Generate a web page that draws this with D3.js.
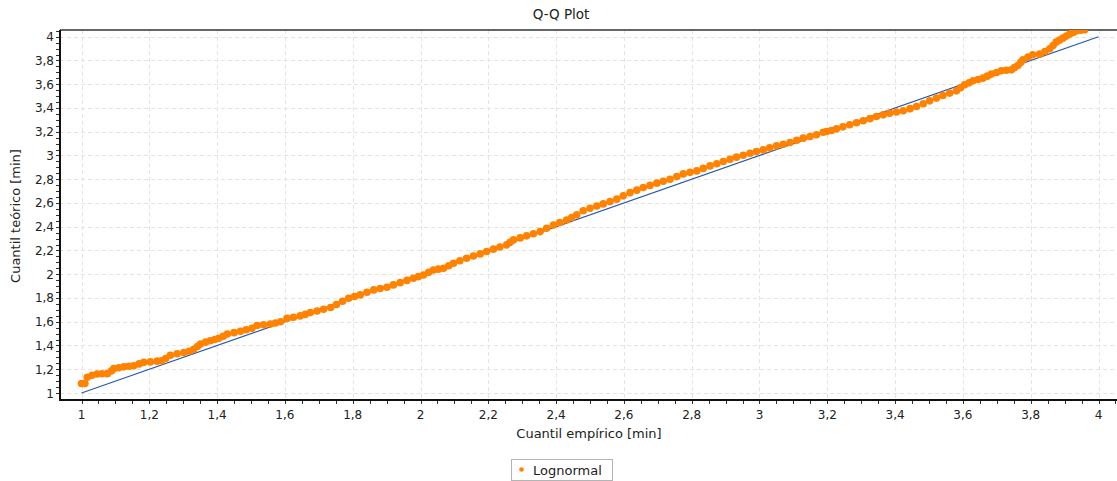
<!DOCTYPE html>
<html>
<head>
<meta charset="utf-8">
<script src="https://cdn.jsdelivr.net/npm/d3@7"></script>
<style>
  body { margin: 0; background: #fff; }
  svg { display: block; font-family: "DejaVu Sans", sans-serif; }
</style>
</head>
<body>
<svg id="chart" width="1117" height="481"></svg>
<script>
// Q-Q plot: empirical quantile (x) vs theoretical lognormal quantile (y), in minutes

var title = "Q-Q Plot";
var xLabel = "Cuantil empírico [min]";
var yLabel = "Cuantil teórico [min]";
var seriesName = "Lognormal";

var tickValues = [1, 1.2, 1.4, 1.6, 1.8, 2, 2.2, 2.4, 2.6, 2.8, 3, 3.2, 3.4, 3.6, 3.8, 4];

// reference line y = x
var refLine = [[1, 1], [4, 4]];

var empirical = [
  1.000, 1.010, 1.017, 1.031, 1.046, 1.060, 1.076, 1.088, 1.095, 1.110, 1.125, 1.140, 1.154, 1.170,
  1.184, 1.203, 1.223, 1.236, 1.248, 1.262, 1.282, 1.302, 1.318, 1.331, 1.342, 1.351, 1.366, 1.380,
  1.393, 1.405, 1.418, 1.430, 1.450, 1.469, 1.486, 1.503, 1.518, 1.537, 1.557, 1.572, 1.587, 1.606,
  1.625, 1.645, 1.660, 1.675, 1.695, 1.714, 1.735, 1.752, 1.770,
  1.788, 1.805, 1.822, 1.842, 1.862, 1.881, 1.901, 1.920, 1.940, 1.960, 1.979, 1.994, 2.009, 2.024,
  2.038, 2.053, 2.068, 2.083, 2.097, 2.116, 2.136, 2.156, 2.176, 2.195, 2.215, 2.234, 2.254, 2.264,
  2.274, 2.294, 2.313, 2.333, 2.353, 2.372, 2.392, 2.411, 2.431, 2.446, 2.461,
  2.480, 2.500, 2.520, 2.539, 2.559, 2.579, 2.598, 2.618, 2.638, 2.657, 2.677, 2.697, 2.716, 2.736,
  2.756, 2.775, 2.795, 2.815, 2.834, 2.854, 2.874, 2.893, 2.913, 2.932, 2.952, 2.972, 2.991, 3.011,
  3.030, 3.050, 3.070, 3.090, 3.110, 3.129, 3.149, 3.168, 3.188, 3.198,
  3.212, 3.227, 3.246, 3.266, 3.286, 3.306, 3.326, 3.345, 3.365, 3.384, 3.404, 3.424, 3.444, 3.463,
  3.483, 3.502, 3.522, 3.541, 3.561, 3.581, 3.593, 3.605, 3.618, 3.630, 3.645, 3.659, 3.672, 3.684,
  3.699, 3.713, 3.728, 3.743, 3.752, 3.762, 3.770, 3.777, 3.792, 3.806, 3.826, 3.842, 3.856, 3.866,
  3.875, 3.885, 3.895, 3.905, 3.915, 3.925, 3.934, 3.947, 3.959
];

var theoretical = [
  1.080, 1.080, 1.132, 1.150, 1.160, 1.162, 1.163, 1.185, 1.205, 1.212, 1.220, 1.225, 1.230, 1.245,
  1.258, 1.262, 1.268, 1.272, 1.290, 1.318, 1.330, 1.340, 1.352, 1.368, 1.392, 1.413, 1.428, 1.440,
  1.450, 1.460, 1.478, 1.497, 1.508, 1.520, 1.532, 1.545, 1.568, 1.575, 1.581, 1.590, 1.600, 1.628,
  1.638, 1.649, 1.662, 1.677, 1.690, 1.705, 1.720, 1.745, 1.772,
  1.798, 1.812, 1.826, 1.848, 1.868, 1.880, 1.890, 1.910, 1.929, 1.948, 1.966, 1.980, 1.994, 2.016,
  2.036, 2.043, 2.050, 2.072, 2.093, 2.114, 2.135, 2.153, 2.171, 2.191, 2.211, 2.229, 2.247, 2.268,
  2.289, 2.306, 2.323, 2.341, 2.359, 2.387, 2.415, 2.436, 2.457, 2.478, 2.500,
  2.535, 2.556, 2.574, 2.592, 2.612, 2.632, 2.660, 2.687, 2.708, 2.730, 2.748, 2.767, 2.783, 2.800,
  2.822, 2.845, 2.858, 2.870, 2.891, 2.912, 2.930, 2.949, 2.968, 2.986, 3.002, 3.019, 3.033, 3.047,
  3.064, 3.081, 3.095, 3.109, 3.128, 3.146, 3.160, 3.174, 3.195, 3.202,
  3.210, 3.224, 3.241, 3.258, 3.275, 3.292, 3.310, 3.328, 3.342, 3.356, 3.366, 3.376, 3.394, 3.412,
  3.436, 3.460, 3.483, 3.505, 3.525, 3.544, 3.570, 3.595, 3.612, 3.629, 3.640, 3.651, 3.668, 3.685,
  3.699, 3.713, 3.718, 3.721, 3.740, 3.757, 3.782, 3.805, 3.828, 3.848, 3.853, 3.875, 3.898, 3.926,
  3.954, 3.971, 3.988, 4.005, 4.022, 4.036, 4.049, 4.055, 4.058
];

var W = 1117, H = 481;
var plot = { left: 60, top: 30, right: 1117, bottom: 400 };

var x = d3.scaleLinear().domain([1, 4]).range([81.5, 1098.5]);
var y = d3.scaleLinear().domain([1, 4]).range([393, 36.7]);

var fmt = function (d) { return d3.format(".1~f")(d).replace(".", ","); };

var svg = d3.select("#chart");

svg.append("defs").append("clipPath").attr("id", "plotclip")
   .append("rect")
   .attr("x", plot.left).attr("y", plot.top)
   .attr("width", plot.right - plot.left).attr("height", plot.bottom - plot.top);

// title
svg.append("text")
   .attr("x", 561).attr("y", 19)
   .attr("text-anchor", "middle")
   .attr("font-size", 13.5)
   .attr("fill", "#222")
   .text(title);

// grid
var grid = svg.append("g").attr("clip-path", "url(#plotclip)");
grid.selectAll("line.gx").data(tickValues).enter().append("line")
    .attr("class", "gx")
    .attr("x1", function (d) { return Math.round(x(d)) + 0.5; })
    .attr("x2", function (d) { return Math.round(x(d)) + 0.5; })
    .attr("y1", plot.top).attr("y2", plot.bottom)
    .attr("stroke", "#e4e4e4").attr("stroke-dasharray", "4,3");
grid.selectAll("line.gy").data(tickValues).enter().append("line")
    .attr("class", "gy")
    .attr("y1", function (d) { return Math.round(y(d)) + 0.5; })
    .attr("y2", function (d) { return Math.round(y(d)) + 0.5; })
    .attr("x1", plot.left).attr("x2", plot.right)
    .attr("stroke", "#e4e4e4").attr("stroke-dasharray", "4,3");

// top border
svg.append("line")
   .attr("x1", plot.left).attr("x2", plot.right)
   .attr("y1", plot.top).attr("y2", plot.top)
   .attr("stroke", "#666").attr("stroke-width", 2);

// reference line (under the points)
svg.append("line")
   .attr("x1", x(refLine[0][0])).attr("y1", y(refLine[0][1]))
   .attr("x2", x(refLine[1][0])).attr("y2", y(refLine[1][1]))
   .attr("stroke", "#2457b0").attr("stroke-width", 1.1);

// data points
var pts = d3.zip(empirical, theoretical);
svg.append("g").attr("clip-path", "url(#plotclip)")
   .selectAll("circle").data(pts).enter().append("circle")
   .attr("cx", function (d) { return x(d[0]); })
   .attr("cy", function (d) { return y(d[1]); })
   .attr("r", 3.8)
   .attr("fill", "#ff8200");

// minor ticks every 0.05
var minor = d3.range(0, 63).map(function (i) { return +(1 + i * 0.05).toFixed(2); });

// x axis
var xAxis = svg.append("g").attr("transform", "translate(0," + plot.bottom + ")");
xAxis.append("line").attr("x1", plot.left).attr("x2", plot.right)
     .attr("stroke", "#111").attr("stroke-width", 2);
xAxis.selectAll("line.mt").data(minor.filter(function (d) { return x(d) < plot.right; }))
     .enter().append("line").attr("class", "mt")
     .attr("x1", function (d) { return Math.round(x(d)) + 0.5; })
     .attr("x2", function (d) { return Math.round(x(d)) + 0.5; })
     .attr("y1", 1).attr("y2", 4).attr("stroke", "#333");
xAxis.selectAll("text").data(tickValues).enter().append("text")
     .attr("x", function (d) { return x(d); })
     .attr("y", 19)
     .attr("text-anchor", "middle")
     .attr("font-size", 12)
     .attr("fill", "#222")
     .text(fmt);

// y axis
var yAxis = svg.append("g").attr("transform", "translate(" + plot.left + ",0)");
yAxis.append("line").attr("y1", plot.top).attr("y2", plot.bottom + 1)
     .attr("stroke", "#111").attr("stroke-width", 2);
yAxis.selectAll("line.mt").data(minor.filter(function (d) { return y(d) > plot.top; }))
     .enter().append("line").attr("class", "mt")
     .attr("y1", function (d) { return Math.round(y(d)) + 0.5; })
     .attr("y2", function (d) { return Math.round(y(d)) + 0.5; })
     .attr("x1", -1).attr("x2", -4).attr("stroke", "#333");
yAxis.selectAll("text").data(tickValues).enter().append("text")
     .attr("x", -6)
     .attr("y", function (d) { return y(d) + 4.5; })
     .attr("text-anchor", "end")
     .attr("font-size", 12)
     .attr("fill", "#222")
     .text(fmt);

// axis titles
svg.append("text")
   .attr("x", 589).attr("y", 438)
   .attr("text-anchor", "middle")
   .attr("font-size", 13)
   .attr("fill", "#222")
   .text(xLabel);
svg.append("text")
   .attr("transform", "translate(20,216) rotate(-90)")
   .attr("text-anchor", "middle")
   .attr("font-size", 13)
   .attr("fill", "#222")
   .text(yLabel);

// legend
var lg = svg.append("g");
lg.append("rect")
  .attr("x", 511.5).attr("y", 459.5).attr("width", 101).attr("height", 21)
  .attr("fill", "#fff").attr("stroke", "#b4b4b4");
lg.append("circle").attr("cx", 521.5).attr("cy", 469.5).attr("r", 2.3).attr("fill", "#ff8200");
lg.append("text")
  .attr("x", 533).attr("y", 474.5)
  .attr("font-size", 13)
  .attr("fill", "#222")
  .text(seriesName);
</script>
</body>
</html>
